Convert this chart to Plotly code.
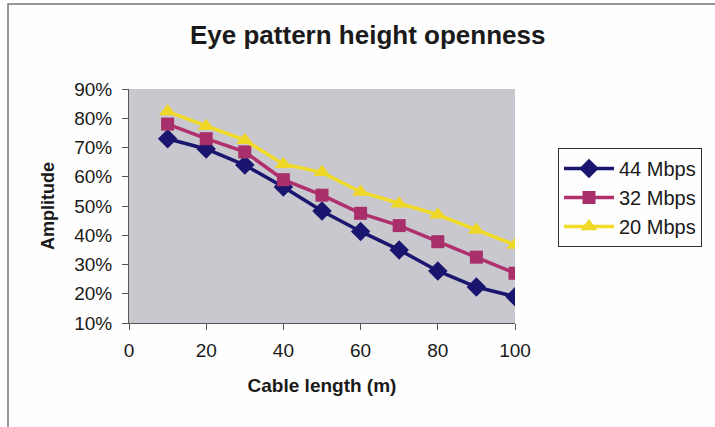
import plotly.graph_objects as go

# Cable length in metres
cable_length = [10, 20, 30, 40, 50, 60, 70, 80, 90, 100]

# Eye opening amplitude (fraction) for each bit rate
amp_44 = [0.73, 0.695, 0.64, 0.565, 0.483, 0.413, 0.35, 0.278, 0.223, 0.19]
amp_32 = [0.78, 0.73, 0.685, 0.59, 0.537, 0.475, 0.433, 0.378, 0.325, 0.27]
amp_20 = [0.823, 0.773, 0.725, 0.643, 0.615, 0.548, 0.508, 0.47, 0.418, 0.367]

series_names = ["44 Mbps", "32 Mbps", "20 Mbps"]
y_ticks = [0.1, 0.2, 0.3, 0.4, 0.5, 0.6, 0.7, 0.8, 0.9]
x_ticks = [0, 20, 40, 60, 80, 100]

FONT = "Liberation Sans, Arial, sans-serif"
W, H = 715, 427
L, R, T, B = 129, 200, 89, 104
PW, PH = W - L - R, H - T - B


def px_x(px):
    return (px - L) / PW


def px_y(py):
    return 1 - (py - T) / PH


fig = go.Figure()
fig.add_trace(go.Scatter(
    x=cable_length, y=amp_44, name=series_names[0], mode="lines+markers",
    line=dict(color="#1a1670", width=3.5),
    marker=dict(symbol="diamond", size=15, color="#1a1670"),
))
fig.add_trace(go.Scatter(
    x=cable_length, y=amp_32, name=series_names[1], mode="lines+markers",
    line=dict(color="#b0306e", width=3.5),
    marker=dict(symbol="square", size=13, color="#a82f6a"),
))
fig.add_trace(go.Scatter(
    x=cable_length, y=amp_20, name=series_names[2], mode="lines+markers",
    line=dict(color="#f2dc2a", width=3.5),
    marker=dict(symbol="triangle-up", size=15, color="#f0d828"),
))

fig.update_layout(
    width=W, height=H,
    margin=dict(l=L, r=R, t=T, b=B),
    paper_bgcolor="#fefefe",
    plot_bgcolor="#c8c8ce",
    font=dict(family=FONT, size=20, color="#1a1a1a"),
    showlegend=True,
    legend=dict(
        x=px_x(558), y=px_y(148), xanchor="left", yanchor="top",
        bgcolor="#fefefe", bordercolor="#333333", borderwidth=1,
        font=dict(family=FONT, size=20, color="#1a1a1a"),
        itemwidth=50, tracegroupgap=0,
    ),
    xaxis=dict(
        range=[0, 100], tickvals=x_ticks, ticktext=[str(v) for v in x_ticks],
        showgrid=False, zeroline=False,
        showline=True, linecolor="#555555", linewidth=1,
        ticks="outside", ticklen=6, tickcolor="#555555",
        ticklabelstandoff=4,
        tickfont=dict(family=FONT, size=19, color="#1a1a1a"),
        title=dict(text="<b>Cable length (m)</b>", font=dict(family=FONT, size=19), standoff=18),
    ),
    yaxis=dict(
        range=[0.1, 0.9], tickvals=y_ticks, tickformat=".0%",
        showgrid=False, zeroline=False,
        showline=True, linecolor="#555555", linewidth=1,
        ticks="outside", ticklen=6, tickcolor="#555555",
        ticklabelstandoff=6,
        tickfont=dict(family=FONT, size=19, color="#1a1a1a"),
        title=dict(text="<b>Amplitude</b>", font=dict(family=FONT, size=18), standoff=14),
    ),
)

fig.add_annotation(
    text="<b>Eye pattern height openness</b>", xref="paper", yref="paper",
    x=px_x(367), y=px_y(35),
    xanchor="center", yanchor="middle", showarrow=False,
    font=dict(family=FONT, size=26, color="#1a1a1a"),
)

# Outer chart frame
fig.add_shape(
    type="rect", xref="paper", yref="paper",
    x0=px_x(8), x1=px_x(720), y0=px_y(432), y1=px_y(4),
    line=dict(color="#777777", width=1.5), fillcolor="rgba(0,0,0,0)", layer="below",
)

fig.write_html("out.html")
